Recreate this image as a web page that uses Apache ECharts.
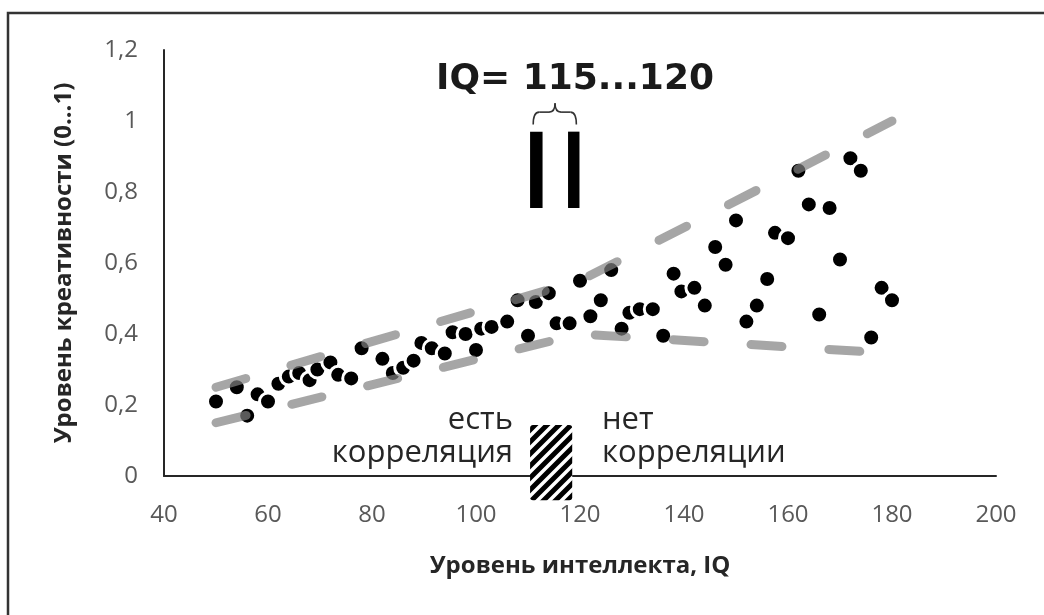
<!DOCTYPE html>
<html>
<head>
<meta charset="utf-8">
<script src="https://cdn.jsdelivr.net/npm/echarts@6/dist/echarts.min.js"></script>
<style>
  html, body { margin: 0; padding: 0; background: #fff; }
  #chart { width: 1044px; height: 615px; }
</style>
</head>
<body>
<div id="chart"></div>
<script>
// точки: уровень интеллекта (IQ) и уровень креативности
const iqValues = [50, 54, 56, 58, 60, 62, 64, 66, 68, 69.5, 72, 73.5, 76, 78, 82, 84, 86, 88, 89.5, 91.5,
  94, 95.5, 98, 100, 101, 103, 106, 108, 110, 111.5, 114, 115.5, 118, 120, 122, 124, 126, 128, 129.5, 131.5,
  134, 136, 138, 139.5, 142, 144, 146, 148, 150, 152, 154, 156, 157.5, 160, 162, 164, 166, 168, 170, 172,
  174, 176, 178, 180];
const creativityValues = [0.21, 0.25, 0.17, 0.23, 0.21, 0.26, 0.28, 0.29, 0.27, 0.30, 0.32, 0.285, 0.275, 0.36, 0.33, 0.29, 0.305, 0.325, 0.375, 0.36,
  0.345, 0.405, 0.40, 0.355, 0.415, 0.42, 0.435, 0.495, 0.395, 0.49, 0.515, 0.43, 0.43, 0.55, 0.45, 0.495, 0.58, 0.415, 0.46, 0.47,
  0.47, 0.395, 0.57, 0.52, 0.53, 0.48, 0.645, 0.595, 0.72, 0.435, 0.48, 0.555, 0.685, 0.67, 0.86, 0.765, 0.455, 0.755, 0.61, 0.895,
  0.86, 0.39, 0.53, 0.495];

// пунктирные границы
const upperBound = [[50, 0.25], [120, 0.55], [180, 1.0]];
const lowerBound = [[50, 0.15], [120, 0.40], [175, 0.35]];

// оси
const xMin = 40, xMax = 200, xStep = 20;
const yMin = 0, yMax = 1.2, yStep = 0.2;

// пометки IQ = 115...120
const markBarsX = [[110.4, 112.8], [117.7, 119.9]];
const markBarsY = [0.755, 0.97];
const braceX = [111, 115.2, 119.3];
const braceY = [0.99, 1.025, 1.05];
const hatchX = [110.4, 118.5];
const hatchY = [-0.068, 0.144];

const points = iqValues.map((x, i) => [x, creativityValues[i]]);

// штриховка
function makeHatch() {
  const c = document.createElement('canvas');
  c.width = 12; c.height = 12;
  const g = c.getContext('2d');
  g.fillStyle = '#fff';
  g.fillRect(0, 0, 12, 12);
  g.strokeStyle = '#000';
  g.lineWidth = 5;
  g.beginPath();
  g.moveTo(-3, 15); g.lineTo(15, -3);
  g.moveTo(-9, 9); g.lineTo(9, -9);
  g.moveTo(3, 21); g.lineTo(21, 3);
  g.stroke();
  return c;
}
const hatch = makeHatch();

function renderMarks(params, api) {
  const p = (x, y) => api.coord([x, y]);
  const children = [];
  markBarsX.forEach(b => {
    const a = p(b[0], markBarsY[1]);
    const z = p(b[1], markBarsY[0]);
    children.push({
      type: 'rect',
      shape: { x: a[0], y: a[1], width: z[0] - a[0], height: z[1] - a[1] },
      style: { fill: '#000' }
    });
  });
  // фигурная скобка
  const l = p(braceX[0], braceY[0]);
  const m = p(braceX[1], braceY[1]);
  const t = p(braceX[1], braceY[2]);
  const r = p(braceX[2], braceY[0]);
  const rr = 6;
  const st = { stroke: '#333', lineWidth: 1.6, fill: null };
  const segs = [
    { type: 'bezierCurve', shape: { x1: l[0], y1: l[1], x2: l[0] + rr, y2: m[1], cpx1: l[0], cpy1: m[1] } },
    { type: 'line', shape: { x1: l[0] + rr, y1: m[1], x2: m[0] - rr, y2: m[1] } },
    { type: 'bezierCurve', shape: { x1: m[0] - rr, y1: m[1], x2: t[0], y2: t[1], cpx1: m[0], cpy1: m[1] } },
    { type: 'bezierCurve', shape: { x1: t[0], y1: t[1], x2: m[0] + rr, y2: m[1], cpx1: m[0], cpy1: m[1] } },
    { type: 'line', shape: { x1: m[0] + rr, y1: m[1], x2: r[0] - rr, y2: m[1] } },
    { type: 'bezierCurve', shape: { x1: r[0] - rr, y1: m[1], x2: r[0], y2: r[1], cpx1: r[0], cpy1: m[1] } }
  ];
  segs.forEach(s => { s.style = st; children.push(s); });
  // заштрихованный блок
  const h1 = p(hatchX[0], hatchY[1]);
  const h2 = p(hatchX[1], hatchY[0]);
  children.push({
    type: 'rect',
    shape: { x: h1[0], y: h1[1], width: h2[0] - h1[0], height: h2[1] - h1[1], r: 3 },
    style: { fill: { image: hatch, repeat: 'repeat' } }
  });
  return { type: 'group', children: children };
}

const chart = echarts.init(document.getElementById('chart'));
chart.setOption({
  animation: false,
  backgroundColor: '#fff',
  textStyle: { fontFamily: 'Open Sans' },
  grid: { left: 164, right: 48, top: 50, bottom: 139 },
  xAxis: {
    type: 'value',
    min: xMin, max: xMax, interval: xStep,
    name: 'Уровень интеллекта, IQ',
    nameLocation: 'middle',
    nameGap: 78,
    nameTextStyle: { fontSize: 24, fontWeight: 'bold', color: '#262626' },
    axisLine: { lineStyle: { color: '#262626', width: 2 } },
    axisTick: { show: false },
    splitLine: { show: false },
    axisLabel: { fontSize: 24, color: '#595959', margin: 27 }
  },
  yAxis: {
    type: 'value',
    min: yMin, max: yMax, interval: yStep,
    name: 'Уровень креативности (0...1)',
    nameLocation: 'middle',
    nameGap: 88,
    nameTextStyle: { fontSize: 24, fontWeight: 'bold', color: '#262626' },
    axisLine: { show: true, lineStyle: { color: '#262626', width: 2 } },
    axisTick: { show: false },
    splitLine: { show: false },
    axisLabel: {
      fontSize: 24, color: '#595959', margin: 26,
      formatter: v => String(+v.toFixed(1)).replace('.', ',')
    }
  },
  series: [
    {
      type: 'scatter',
      data: points,
      symbol: 'circle',
      symbolSize: 17,
      itemStyle: { color: '#000', borderColor: '#fff', borderWidth: 3, opacity: 1 },
      z: 2
    },
    {
      type: 'line',
      data: upperBound,
      symbol: 'none',
      lineStyle: { color: 'rgba(128,128,128,0.7)', width: 9, type: [31, 47], cap: 'round', join: 'round' },
      z: 3
    },
    {
      type: 'line',
      data: lowerBound,
      symbol: 'none',
      lineStyle: { color: 'rgba(128,128,128,0.7)', width: 9, type: [31, 47], cap: 'round', join: 'round' },
      z: 3
    },
    {
      type: 'custom',
      data: [0],
      clip: false,
      renderItem: renderMarks,
      z: 4
    }
  ],
  graphic: [
    {
      type: 'rect',
      shape: { x: 8, y: 13, width: 1100, height: 700 },
      style: { fill: null, stroke: '#333', lineWidth: 2.5 },
      silent: true
    },
    {
      type: 'text', x: 575, y: 80,
      style: { text: 'IQ= 115...120', font: 'bold 36px "DejaVu Sans"', fill: '#1a1a1a', align: 'center', verticalAlign: 'middle' }
    },
    {
      type: 'text', x: 513, y: 420,
      style: { text: 'есть', font: '31px "Open Sans"', fill: '#262626', align: 'right', verticalAlign: 'middle' }
    },
    {
      type: 'text', x: 513, y: 453,
      style: { text: 'корреляция', font: '31px "Open Sans"', fill: '#262626', align: 'right', verticalAlign: 'middle' }
    },
    {
      type: 'text', x: 602, y: 420,
      style: { text: 'нет', font: '31px "Open Sans"', fill: '#262626', align: 'left', verticalAlign: 'middle' }
    },
    {
      type: 'text', x: 602, y: 453,
      style: { text: 'корреляции', font: '31px "Open Sans"', fill: '#262626', align: 'left', verticalAlign: 'middle' }
    }
  ]
});
</script>
</body>
</html>
